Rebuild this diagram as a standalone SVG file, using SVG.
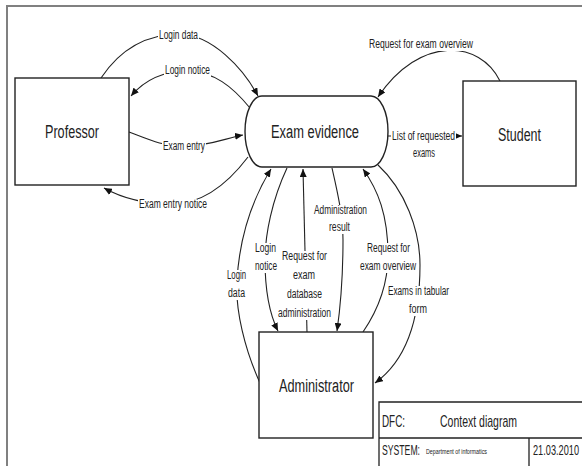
<svg xmlns="http://www.w3.org/2000/svg" width="582" height="466" viewBox="0 0 582 466">
<defs>
<marker id="arr" markerUnits="userSpaceOnUse" markerWidth="9" markerHeight="7" refX="8" refY="3.5" orient="auto">
<path d="M0,0 L8,3.5 L0,7 z" fill="#111"/>
</marker>
<style>
.box{fill:#fff;stroke:#222;stroke-width:1.4}
.frame{fill:none;stroke:#808080;stroke-width:2}
.c{fill:none;stroke:#222;stroke-width:1.1;marker-end:url(#arr)}
.bg{fill:#fff}
.n{font-family:"Liberation Sans",Arial,sans-serif;font-size:18px;fill:#222}
.l{font-family:"Liberation Sans",Arial,sans-serif;font-size:12px;fill:#222}
.t{font-family:"Liberation Sans",Arial,sans-serif;fill:#222}
</style>
</defs>
<rect width="582" height="466" fill="#fff"/>
<path class="frame" d="M7,466 V6 H582"/>

<g id="connectors">
<path class="c" d="M101,78 C125,42 155,34 180,34 C212,35 243,68 258,96"/>
<path class="c" d="M250,108 C232,86 214,72 188,71 C160,71 142,83 131,96"/>
<path class="c" d="M129,132 C150,140 162,146 184,146 C210,146 226,138 243,135"/>
<path class="c" d="M248,157 C226,186 200,204 172,204 C142,204 120,197 104,188"/>
<path class="c" d="M500,81 C480,40 420,35 378,97"/>
<path class="c" d="M388,136 L462,136"/>
<path class="c" d="M260,383 C245,350 235,310 237,280 C240,230 255,195 271,169"/>
<path class="c" d="M287,168 C272,200 265,235 265,260 C265,290 270,315 278,331"/>
<path class="c" d="M307,332 L303,169"/>
<path class="c" d="M332,168 C337,190 343,215 343,240 C343,280 340,310 337,331"/>
<path class="c" d="M363,332 C378,310 388,285 388,255 C388,215 378,190 363,169"/>
<path class="c" d="M378,165 C405,190 420,230 420,265 C420,330 400,365 375,383"/>
</g>
<g id="connector-labels">
<rect class="bg" x="158" y="30" width="41" height="12"/>
<rect class="bg" x="164" y="65" width="47" height="12"/>
<rect class="bg" x="162" y="141" width="44" height="12"/>
<rect class="bg" x="138" y="199" width="70" height="12"/>
<rect class="bg" x="368" y="39" width="106" height="12"/>
<rect class="bg" x="391" y="131" width="65" height="12"/>
<rect class="bg" x="412" y="148" width="24" height="12"/>
<rect class="bg" x="226" y="270" width="21" height="30"/>
<rect class="bg" x="254" y="243" width="24" height="30"/>
<rect class="bg" x="281" y="251" width="47" height="69"/>
<rect class="bg" x="313" y="205" width="55" height="29"/>
<rect class="bg" x="359" y="243" width="58" height="30"/>
<rect class="bg" x="387" y="286" width="63" height="30"/>
<text class="l" x="159" y="39" textLength="39" lengthAdjust="spacingAndGlyphs">Login data</text>
<text class="l" x="165" y="74" textLength="45" lengthAdjust="spacingAndGlyphs">Login notice</text>
<text class="l" x="163" y="150" textLength="42" lengthAdjust="spacingAndGlyphs">Exam entry</text>
<text class="l" x="139" y="208" textLength="68" lengthAdjust="spacingAndGlyphs">Exam entry notice</text>
<text class="l" x="369" y="48" textLength="104" lengthAdjust="spacingAndGlyphs">Request for exam overview</text>
<text class="l" x="392" y="140" textLength="63" lengthAdjust="spacingAndGlyphs">List of requested</text>
<text class="l" x="413" y="157" textLength="22" lengthAdjust="spacingAndGlyphs">exams</text>
<text class="l" x="227" y="279" textLength="19" lengthAdjust="spacingAndGlyphs">Login</text>
<text class="l" x="228" y="297" textLength="17" lengthAdjust="spacingAndGlyphs">data</text>
<text class="l" x="255" y="252" textLength="21" lengthAdjust="spacingAndGlyphs">Login</text>
<text class="l" x="255" y="270" textLength="22" lengthAdjust="spacingAndGlyphs">notice</text>
<text class="l" x="282" y="260" textLength="45" lengthAdjust="spacingAndGlyphs">Request for</text>
<text class="l" x="293" y="279" textLength="22" lengthAdjust="spacingAndGlyphs">exam</text>
<text class="l" x="287" y="298" textLength="35" lengthAdjust="spacingAndGlyphs">database</text>
<text class="l" x="278" y="317" textLength="53" lengthAdjust="spacingAndGlyphs">administration</text>
<text class="l" x="314" y="214" textLength="53" lengthAdjust="spacingAndGlyphs">Administration</text>
<text class="l" x="329" y="231" textLength="21" lengthAdjust="spacingAndGlyphs">result</text>
<text class="l" x="367" y="252" textLength="43" lengthAdjust="spacingAndGlyphs">Request for</text>
<text class="l" x="360" y="270" textLength="56" lengthAdjust="spacingAndGlyphs">exam overview</text>
<text class="l" x="388" y="295" textLength="61" lengthAdjust="spacingAndGlyphs">Exams in tabular</text>
<text class="l" x="409" y="313" textLength="18" lengthAdjust="spacingAndGlyphs">form</text>
</g>

<g id="professor">
<rect class="box" x="15" y="78" width="114" height="107"/>
<text class="n" x="45" y="138" textLength="54" lengthAdjust="spacingAndGlyphs">Professor</text>
</g>
<g id="exam-evidence">
<path class="box" d="M262,96 H371 A17,35.5 0 0 1 371,167 H262 A17,35.5 0 0 1 262,96 Z"/>
<text class="n" x="271" y="138" textLength="88" lengthAdjust="spacingAndGlyphs">Exam evidence</text>
</g>
<g id="student">
<rect class="box" x="463" y="81" width="113" height="105"/>
<text class="n" x="498" y="141" textLength="43" lengthAdjust="spacingAndGlyphs">Student</text>
</g>
<g id="administrator">
<rect class="box" x="259" y="332" width="114" height="106"/>
<text class="n" x="279" y="392" textLength="75" lengthAdjust="spacingAndGlyphs">Administrator</text>
</g>

<g id="title-block">
<path d="M379,470 V402 H584 M379,438 H584 M529,438 V470" fill="none" stroke="#222" stroke-width="1.3"/>
<text class="t" x="382" y="427" font-size="17" textLength="23" lengthAdjust="spacingAndGlyphs">DFC:</text>
<text class="t" x="440" y="427" font-size="17" textLength="77" lengthAdjust="spacingAndGlyphs">Context diagram</text>
<text class="t" x="382" y="455" font-size="14" textLength="38" lengthAdjust="spacingAndGlyphs">SYSTEM:</text>
<text class="t" x="426" y="454" font-size="7.5" textLength="61" lengthAdjust="spacingAndGlyphs">Department of informatics</text>
<text class="t" x="533" y="455" font-size="14" textLength="46" lengthAdjust="spacingAndGlyphs">21.03.2010</text>
</g>
</svg>
